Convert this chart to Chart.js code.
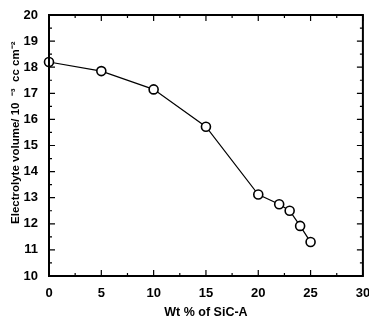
<!DOCTYPE html>
<html>
<head>
<meta charset="utf-8">
<script src="https://cdn.jsdelivr.net/npm/chart.js@4/dist/chart.umd.min.js"></script>
<style>
  html, body { margin: 0; padding: 0; background: #fff; }
  #wrap { width: 369px; height: 320px; }
</style>
</head>
<body>
<div id="wrap"><canvas id="chart" width="369" height="320"></canvas></div>
<script>
const wtPercent = [0, 5, 10, 15, 20, 22, 23, 24, 25];
const volume = [18.2, 17.85, 17.15, 15.72, 13.12, 12.75, 12.5, 11.92, 11.3];
const xTicks = [0, 5, 10, 15, 20, 25, 30];
const yTicks = [10, 11, 12, 13, 14, 15, 16, 17, 18, 19, 20];

// inward ticks on all four sides, like the printed figure
const inwardTicks = {
    id: 'inwardTicks',
    afterDraw(chart) {
        const { ctx, chartArea: a, scales: { x, y } } = chart;
        ctx.save();
        ctx.strokeStyle = '#000';
        ctx.lineWidth = 1.2;
        ctx.beginPath();
        for (let v = 0; v <= 30; v += 2.5) {
            const px = x.getPixelForValue(v);
            const len = v % 5 === 0 ? 6 : 3;
            ctx.moveTo(px, a.bottom); ctx.lineTo(px, a.bottom - len);
            ctx.moveTo(px, a.top); ctx.lineTo(px, a.top + len);
        }
        for (let v = 10; v <= 20; v += 0.5) {
            const py = y.getPixelForValue(v);
            const len = v % 1 === 0 ? 6 : 3;
            ctx.moveTo(a.left, py); ctx.lineTo(a.left + len, py);
            ctx.moveTo(a.right, py); ctx.lineTo(a.right - len, py);
        }
        ctx.stroke();
        ctx.lineWidth = 2;
        ctx.strokeRect(a.left, a.top, a.right - a.left, a.bottom - a.top);
        ctx.restore();
    }
};

new Chart(document.getElementById('chart').getContext('2d'), {
    type: 'line',
    data: {
        datasets: [{
            data: wtPercent.map((w, i) => ({ x: w, y: volume[i] })),
            borderColor: '#000',
            borderWidth: 1.2,
            pointRadius: 4.5,
            pointBorderWidth: 1.6,
            pointBackgroundColor: '#fff',
            pointBorderColor: '#000',
            tension: 0,
            clip: false
        }]
    },
    options: {
        responsive: false,
        animation: false,
        layout: { padding: { top: 15, right: 6, left: 0, bottom: 0 } },
        plugins: { legend: { display: false }, tooltip: { enabled: false } },
        scales: {
            x: {
                type: 'linear',
                min: 0,
                max: 30,
                afterBuildTicks: (s) => { s.ticks = xTicks.map(v => ({ value: v })); },
                afterFit: (s) => { s.height = 44; s.paddingRight = 0; s.paddingLeft = 0; },
                grid: { display: false },
                border: { display: false },
                ticks: {
                    color: '#000',
                    padding: 2,
                    maxRotation: 0,
                    font: { family: 'Liberation Sans', size: 13, weight: 'bold' }
                },
                title: {
                    display: true,
                    text: 'Wt % of SiC-A',
                    color: '#000',
                    padding: { top: 1, bottom: 0 },
                    font: { family: 'Liberation Sans', size: 12.5, weight: 'bold' }
                }
            },
            y: {
                type: 'linear',
                min: 10,
                max: 20,
                afterBuildTicks: (s) => { s.ticks = yTicks.map(v => ({ value: v })); },
                afterFit: (s) => { s.width = 49; },
                grid: { display: false },
                border: { display: false },
                ticks: {
                    color: '#000',
                    padding: 3,
                    font: { family: 'Liberation Sans', size: 13, weight: 'bold' }
                },
                title: {
                    display: true,
                    text: '        Electrolyte volume/ 10  \u207B\u00B3  cc cm\u207B\u00B2',
                    color: '#000',
                    padding: { top: 9, bottom: 0 },
                    font: { family: 'Liberation Sans', size: 11.5, weight: 'bold' }
                }
            }
        }
    },
    plugins: [inwardTicks]
});
</script>
</body>
</html>
